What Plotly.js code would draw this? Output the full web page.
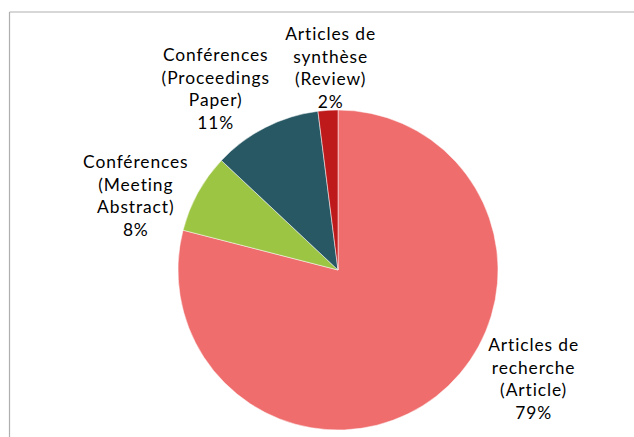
<!DOCTYPE html>
<html>
<head>
<meta charset="utf-8">
<script src="https://cdn.plot.ly/plotly-3.0.1.min.js"></script>
<style>
html,body{margin:0;padding:0;background:#fff;}
#chart{width:634px;height:437px;}
#chart .annotation-text{letter-spacing:0.9px;}
</style>
</head>
<body>
<div id="chart"></div>
<script>
// Data
var categories = [
  'Articles de<br>recherche<br>(Article)',
  'Conférences<br>(Meeting<br>Abstract)',
  'Conférences<br>(Proceedings<br>Paper)',
  'Articles de<br>synthèse<br>(Review)'
];
var percentages = [79, 8, 11, 2];
var colors = ['#EF6D6D', '#9DC544', '#275863', '#BE1A1C'];

// Label placement (paper pixels from top-left)
var labelPos = [
  [533, 378],
  [135.5, 195],
  [215.5, 88],
  [330, 67]
];

var W = 634, H = 437;
var cx = 338, cy = 270, r = 160;

var trace = {
  type: 'pie',
  labels: categories.map(function(c){ return c.replace(/<br>/g, ' '); }),
  values: percentages,
  sort: false,
  direction: 'clockwise',
  rotation: 0,
  textinfo: 'none',
  hoverinfo: 'label+percent',
  marker: {colors: colors, line: {color: '#ffffff', width: 0.5}},
  domain: {x: [(cx - r) / W, (cx + r) / W], y: [(H - (cy + r)) / H, (H - (cy - r)) / H]},
  showlegend: false
};

var annotations = categories.map(function(c, i){
  return {
    text: c + '<br>' + percentages[i] + '%',
    x: labelPos[i][0] / W,
    y: 1 - labelPos[i][1] / H,
    xref: 'paper', yref: 'paper',
    xanchor: 'center', yanchor: 'middle',
    align: 'center',
    showarrow: false,
    font: {family: 'Lato, "Noto Sans", sans-serif', size: 17.4, color: '#000000'}
  };
});

var layout = {
  width: W, height: H,
  margin: {l: 0, r: 0, t: 0, b: 0},
  paper_bgcolor: '#ffffff',
  annotations: annotations,
  shapes: [
    {type: 'line', xref: 'paper', yref: 'paper', x0: 9.5 / W, x1: 1, y0: 1 - 12 / H, y1: 1 - 12 / H, line: {color: '#AFAFAF', width: 1.2}},
    {type: 'line', xref: 'paper', yref: 'paper', x0: 9.5 / W, x1: 9.5 / W, y0: 0, y1: 1 - 12 / H, line: {color: '#AFAFAF', width: 1.2}}
  ]
};

Plotly.newPlot('chart', [trace], layout, {displayModeBar: false, staticPlot: true});
</script>
</body>
</html>
